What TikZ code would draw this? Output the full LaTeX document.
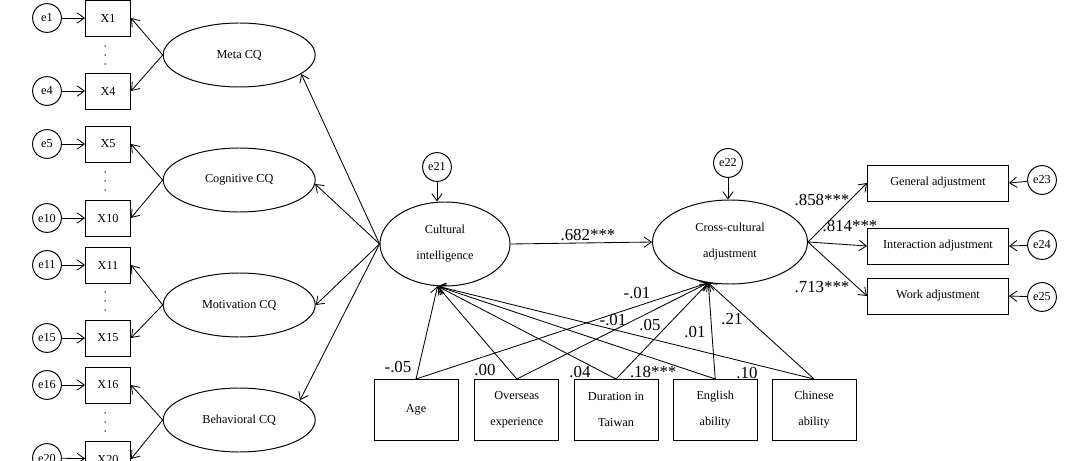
\documentclass[tikz,border=0pt]{standalone}
\usepackage{fontspec}
\setmainfont{Liberation Serif}
\usepackage{tikz}
\usetikzlibrary{arrows.meta,positioning,shapes.geometric,calc}

\begin{document}
\begin{tikzpicture}[
  obs/.style={rectangle, draw, line width=0.7pt, minimum width=1.125cm, minimum height=0.9cm, inner sep=0pt, font=\fontsize{8.7}{18.5}\selectfont},
  lat/.style={ellipse, draw, line width=0.7pt, minimum width=3.8cm, minimum height=1.6cm, inner sep=1pt, align=center, font=\fontsize{8.7}{18.5}\selectfont},
  err/.style={circle, draw, line width=0.7pt, minimum size=0.72cm, inner sep=0pt, font=\fontsize{8.7}{10}\selectfont},
  ind/.style={rectangle, draw, line width=0.7pt, minimum width=3.525cm, minimum height=0.9cm, inner sep=0pt, font=\fontsize{8.7}{18.5}\selectfont},
  cov/.style={rectangle, draw, line width=0.7pt, minimum width=2.1cm, minimum height=1.525cm, inner sep=0pt, align=center, font=\fontsize{8.7}{18.5}\selectfont},
  arrow/.style={-{Straight Barb[length=1.8mm,width=2.6mm]}, line width=0.6pt},
  coef/.style={font=\fontsize{12}{14}\selectfont, inner sep=0pt}
]
  \useasboundingbox (0,0) rectangle (26.625,-11.525);
  \clip (0,0) rectangle (26.625,-11.525);

  % indicators of the four CQ factors
  \node[err] (e1) at (1.175,-0.45) {e1};
  \node[obs] (x1) at (2.7,-0.45) {X1};
  \node[err] (e4) at (1.175,-2.275) {e4};
  \node[obs] (x4) at (2.7,-2.275) {X4};

  \node[err] (e5) at (1.175,-3.6) {e5};
  \node[obs] (x5) at (2.7,-3.6) {X5};
  \node[err] (e10) at (1.175,-5.45) {e10};
  \node[obs] (x10) at (2.7,-5.45) {X10};

  \node[err] (e11) at (1.175,-6.625) {e11};
  \node[obs] (x11) at (2.7,-6.625) {X11};
  \node[err] (e15) at (1.175,-8.45) {e15};
  \node[obs] (x15) at (2.7,-8.45) {X15};

  \node[err] (e16) at (1.175,-9.625) {e16};
  \node[obs] (x16) at (2.7,-9.625) {X16};
  \node[err] (e20) at (1.175,-11.45) {e20};
  \node[obs] (x20) at (2.7,-11.475) {X20};

  % vertical dots between the indicators
  \fill (2.63,-1.15) circle (0.55pt) (2.63,-1.375) circle (0.55pt) (2.63,-1.6) circle (0.55pt);
  \fill (2.63,-4.3) circle (0.55pt) (2.63,-4.525) circle (0.55pt) (2.63,-4.75) circle (0.55pt);
  \fill (2.63,-7.3) circle (0.55pt) (2.63,-7.525) circle (0.55pt) (2.63,-7.75) circle (0.55pt);
  \fill (2.63,-10.325) circle (0.55pt) (2.63,-10.55) circle (0.55pt) (2.63,-10.775) circle (0.55pt);

  \node[lat] (meta) at (5.98,-1.375) {Meta CQ};
  \node[lat] (cog) at (5.98,-4.5) {Cognitive CQ};
  \node[lat] (mot) at (5.98,-7.625) {Motivation CQ};
  \node[lat] (beh) at (5.98,-10.5) {Behavioral CQ};

  % latent variables
  \node[lat, minimum width=3.25cm, minimum height=2.1cm] (ci) at (11.125,-6.1) {Cultural\\intelligence};
  \node[err] (e21) at (10.925,-4.175) {e21};
  \node[lat, minimum width=3.875cm, minimum height=2.1cm] (cca) at (18.25,-6.05) {Cross-cultural\\adjustment};
  \node[err] (e22) at (18.2,-4.075) {e22};

  \node[ind] (gen) at (23.45,-4.575) {General adjustment};
  \node[ind] (inter) at (23.45,-6.15) {Interaction adjustment};
  \node[ind] (work) at (23.45,-7.4) {Work adjustment};
  \node[err] (e23) at (26.05,-4.5) {e23};
  \node[err] (e24) at (26.05,-6.125) {e24};
  \node[err] (e25) at (26.05,-7.425) {e25};

  % control variables
  \node[cov] (age) at (10.4,-10.25) {Age};
  \node[cov] (over) at (12.92,-10.25) {Overseas\\experience};
  \node[cov] (dur) at (15.4,-10.25) {Duration in\\Taiwan};
  \node[cov] (eng) at (17.88,-10.25) {English\\ability};
  \node[cov] (chn) at (20.35,-10.25) {Chinese\\ability};

  \draw[arrow] (e1) -- (x1);
  \draw[arrow] (e4) -- (x4);
  \draw[arrow] (e5) -- (x5);
  \draw[arrow] (e10) -- (x10);
  \draw[arrow] (e11) -- (x11);
  \draw[arrow] (e15) -- (x15);
  \draw[arrow] (e16) -- (x16);
  \draw[arrow] (e20) -- (x20);

  \draw[arrow] (meta.west) -- (x1.east);
  \draw[arrow] (meta.west) -- (x4.east);
  \draw[arrow] (cog.west) -- (x5.east);
  \draw[arrow] (cog.west) -- (x10.east);
  \draw[arrow] (mot.west) -- (x11.east);
  \draw[arrow] (mot.west) -- (x15.east);
  \draw[arrow] (beh.west) -- (x16.east);
  \draw[arrow] (beh.west) -- (x20.east);

  \draw[arrow] (ci.west) -- (meta.-17);
  \draw[arrow] (ci.west) -- (cog.-3);
  \draw[arrow] (ci.west) -- (mot.east);
  \draw[arrow] (ci.west) -- (beh.18);

  \draw[arrow] (e21) -- (e21 |- ci.north);
  \draw[arrow] (e22) -- (e22 |- cca.north);
  \draw[arrow] (ci.east) -- (cca.west);

  \draw[arrow] (cca.east) -- (gen.west);
  \draw[arrow] (cca.east) -- (inter.west);
  \draw[arrow] (cca.east) -- (work.west);
  \draw[arrow] (e23) -- (gen.east);
  \draw[arrow] (e24) -- (inter.east);
  \draw[arrow] (e25) -- (work.east);

  \draw[arrow] (age.north) -- (ci.-100);
  \draw[arrow] (over.north) -- (ci.-100);
  \draw[arrow] (dur.north) -- (ci.-100);
  \draw[arrow] (eng.north) -- (ci.-100);
  \draw[arrow] (chn.north) -- (ci.-100);
  \draw[arrow] (age.north) -- (cca.-118);
  \draw[arrow] (over.north) -- (cca.-118);
  \draw[arrow] (dur.north) -- (cca.-118);
  \draw[arrow] (eng.north) -- (cca.-118);
  \draw[arrow] (chn.north) -- (cca.-118);

  % path coefficients
  \node[coef] (b1) at (14.7,-5.875) {.682***};
  \node[coef] (b2) at (20.55,-5.0) {.858***};
  \node[coef] (b3) at (21.25,-5.65) {.814***};
  \node[coef] (b4) at (20.55,-7.175) {.713***};
  \node[coef] (c1) at (9.95,-9.175) {-.05};
  \node[coef] (c2) at (12.125,-9.25) {.00};
  \node[coef] (c3) at (14.5,-9.3) {.04};
  \node[coef] (c4) at (16.33,-9.3) {.18***};
  \node[coef] (c5) at (18.675,-9.325) {.10};
  \node[coef] (c6) at (15.925,-7.325) {-.01};
  \node[coef] (c7) at (15.325,-8.0) {-.01};
  \node[coef] (c8) at (16.25,-8.125) {.05};
  \node[coef] (c9) at (17.375,-8.3) {.01};
  \node[coef] (c10) at (18.3,-7.975) {.21};
\end{tikzpicture}
\end{document}
